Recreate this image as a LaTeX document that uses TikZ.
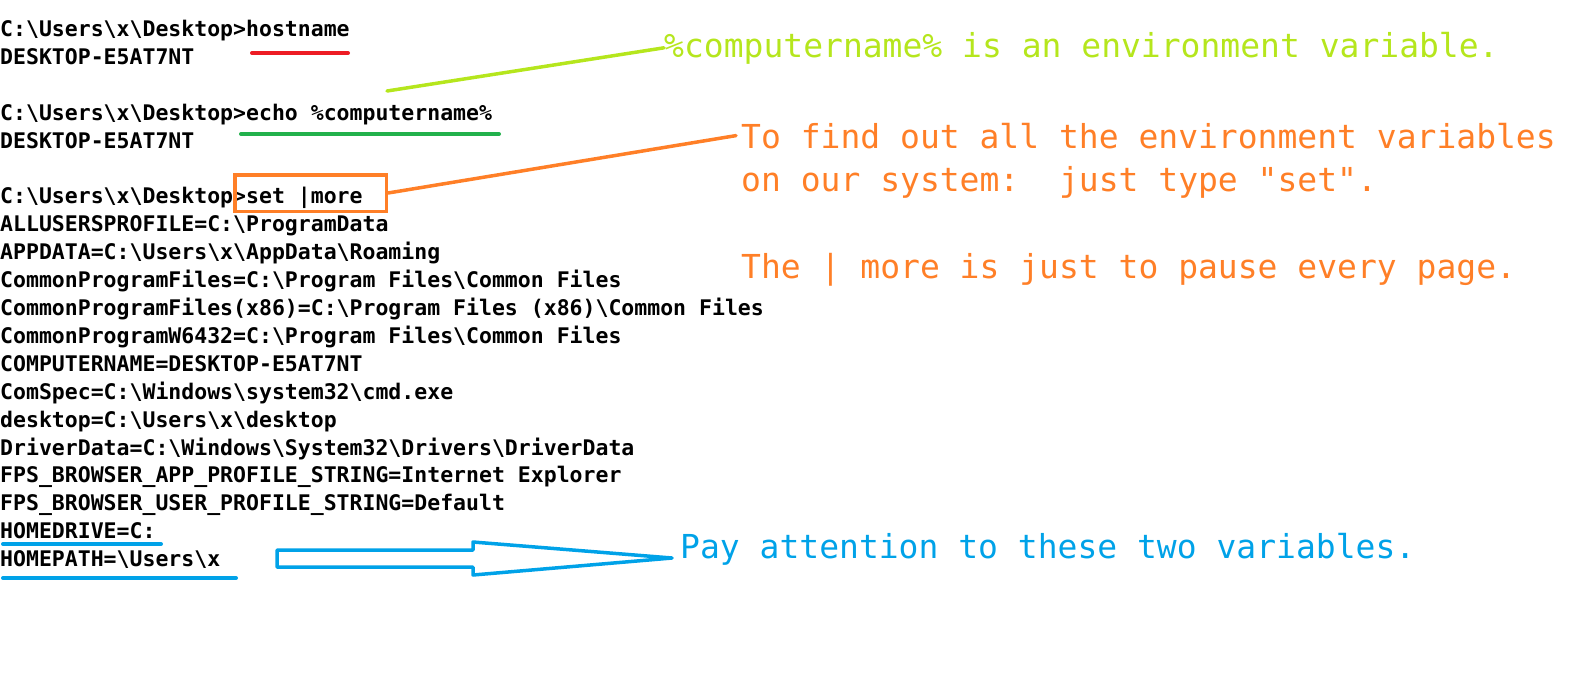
\documentclass[tikz,border=0pt]{standalone}
\usepackage{fontspec}
\newfontfamily\monofont{DejaVu Sans Mono}
\definecolor{mspred}{HTML}{ED1C24}
\definecolor{mspgreen}{HTML}{22B14C}
\definecolor{msplime}{HTML}{B5E61D}
\definecolor{msporange}{HTML}{FF7F27}
\definecolor{mspblue}{HTML}{00A2E8}
\newcommand{\bs}{\textbackslash}
\newcommand{\dq}{\char34\relax}
\newcommand{\cwd}{C:\bs Users\bs x\bs Desktop>}
\begin{document}
\frenchspacing
\begin{tikzpicture}[x = 1pt, y = -1pt,
    console/.style = {anchor = base west, inner sep = 0pt,
        font = \monofont\bfseries\fontsize{21.5}{26}\selectfont},
    remark/.style = {anchor = base west, inner sep = 0pt,
        font = \monofont\fontsize{33}{40}\selectfont},
    ul/.style = {line width = 4pt, line cap = round},
    callout/.style = {line width = 3.5pt, line cap = round}
    ]
    \useasboundingbox (0, 0) rectangle (1578, 681);

    % console
    \node [console] (hostcmd) at (0, 36.5) {\cwd hostname};
    \node [console] (hostout) at (0, 64.4) {DESKTOP-E5AT7NT};
    \node [console] (echocmd) at (0, 120.2) {\cwd echo \%computername\%};
    \node [console] (echoout) at (0, 148.1) {DESKTOP-E5AT7NT};
    \node [console] (setcmd) at (0, 203.9) {\cwd set |more};
    \foreach \txt [count = \k from 8] in {
        ALLUSERSPROFILE=C:\bs ProgramData,
        APPDATA=C:\bs Users\bs x\bs AppData\bs Roaming,
        CommonProgramFiles=C:\bs Program Files\bs Common Files,
        CommonProgramFiles(x86)=C:\bs Program Files (x86)\bs Common Files,
        CommonProgramW6432=C:\bs Program Files\bs Common Files,
        COMPUTERNAME=DESKTOP-E5AT7NT,
        ComSpec=C:\bs Windows\bs system32\bs cmd.exe,
        desktop=C:\bs Users\bs x\bs desktop,
        DriverData=C:\bs Windows\bs System32\bs Drivers\bs DriverData,
        FPS\_BROWSER\_APP\_PROFILE\_STRING=Internet Explorer,
        FPS\_BROWSER\_USER\_PROFILE\_STRING=Default,
        HOMEDRIVE=C:,
        HOMEPATH=\bs Users\bs x}
        \node [console] (env\k) at (0, {36.5 + 27.9*(\k - 1)}) {\txt};

    % underlines
    \draw [ul, mspred] (252, 53) -- (348, 53);
    \draw [ul, mspgreen] (241, 134) -- (499, 134);
    \draw [ul, mspblue] (3, 544) -- (161, 544);
    \draw [ul, mspblue] (3, 578) -- (236, 578);

    % remarks
    \node [remark, text = msplime] (cnnote) at (664, 57)
        {\%computername\% is an environment variable.};
    \node [remark, text = msporange] (setnoteA) at (741, 148)
        {To find out all the environment variables};
    \node [remark, text = msporange] (setnoteB) at (741, 191.5)
        {on our system:~~just type \dq set\dq.};
    \node [remark, text = msporange] (pipenote) at (741, 278)
        {The | more is just to pause every page.};
    \node [remark, text = mspblue] (homenote) at (680, 558)
        {Pay attention to these two variables.};

    % callouts
    \coordinate (cnfoot) at (387, 91);
    \draw [callout, msplime] (cnfoot) -- (cnnote.west);

    \node [draw = msporange, line width = 3.5pt, inner sep = 0pt,
        minimum width = 151.5, minimum height = 36.5] (setbox) at (310.5, 193) {};
    \draw [callout, msporange] (setbox.east) -- ([xshift = -5]setnoteA.west);

    \coordinate (arrowtip) at ([xshift = -8]homenote.base west);
    \draw [mspblue, line width = 3.5pt, line join = round]
        (arrowtip) -- ++(-199, -16) -- ++(0, 8) -- ++(-196, 0)
        -- ++(0, 17) -- ++(196, 0) -- ++(0, 8) -- cycle;
\end{tikzpicture}
\end{document}
